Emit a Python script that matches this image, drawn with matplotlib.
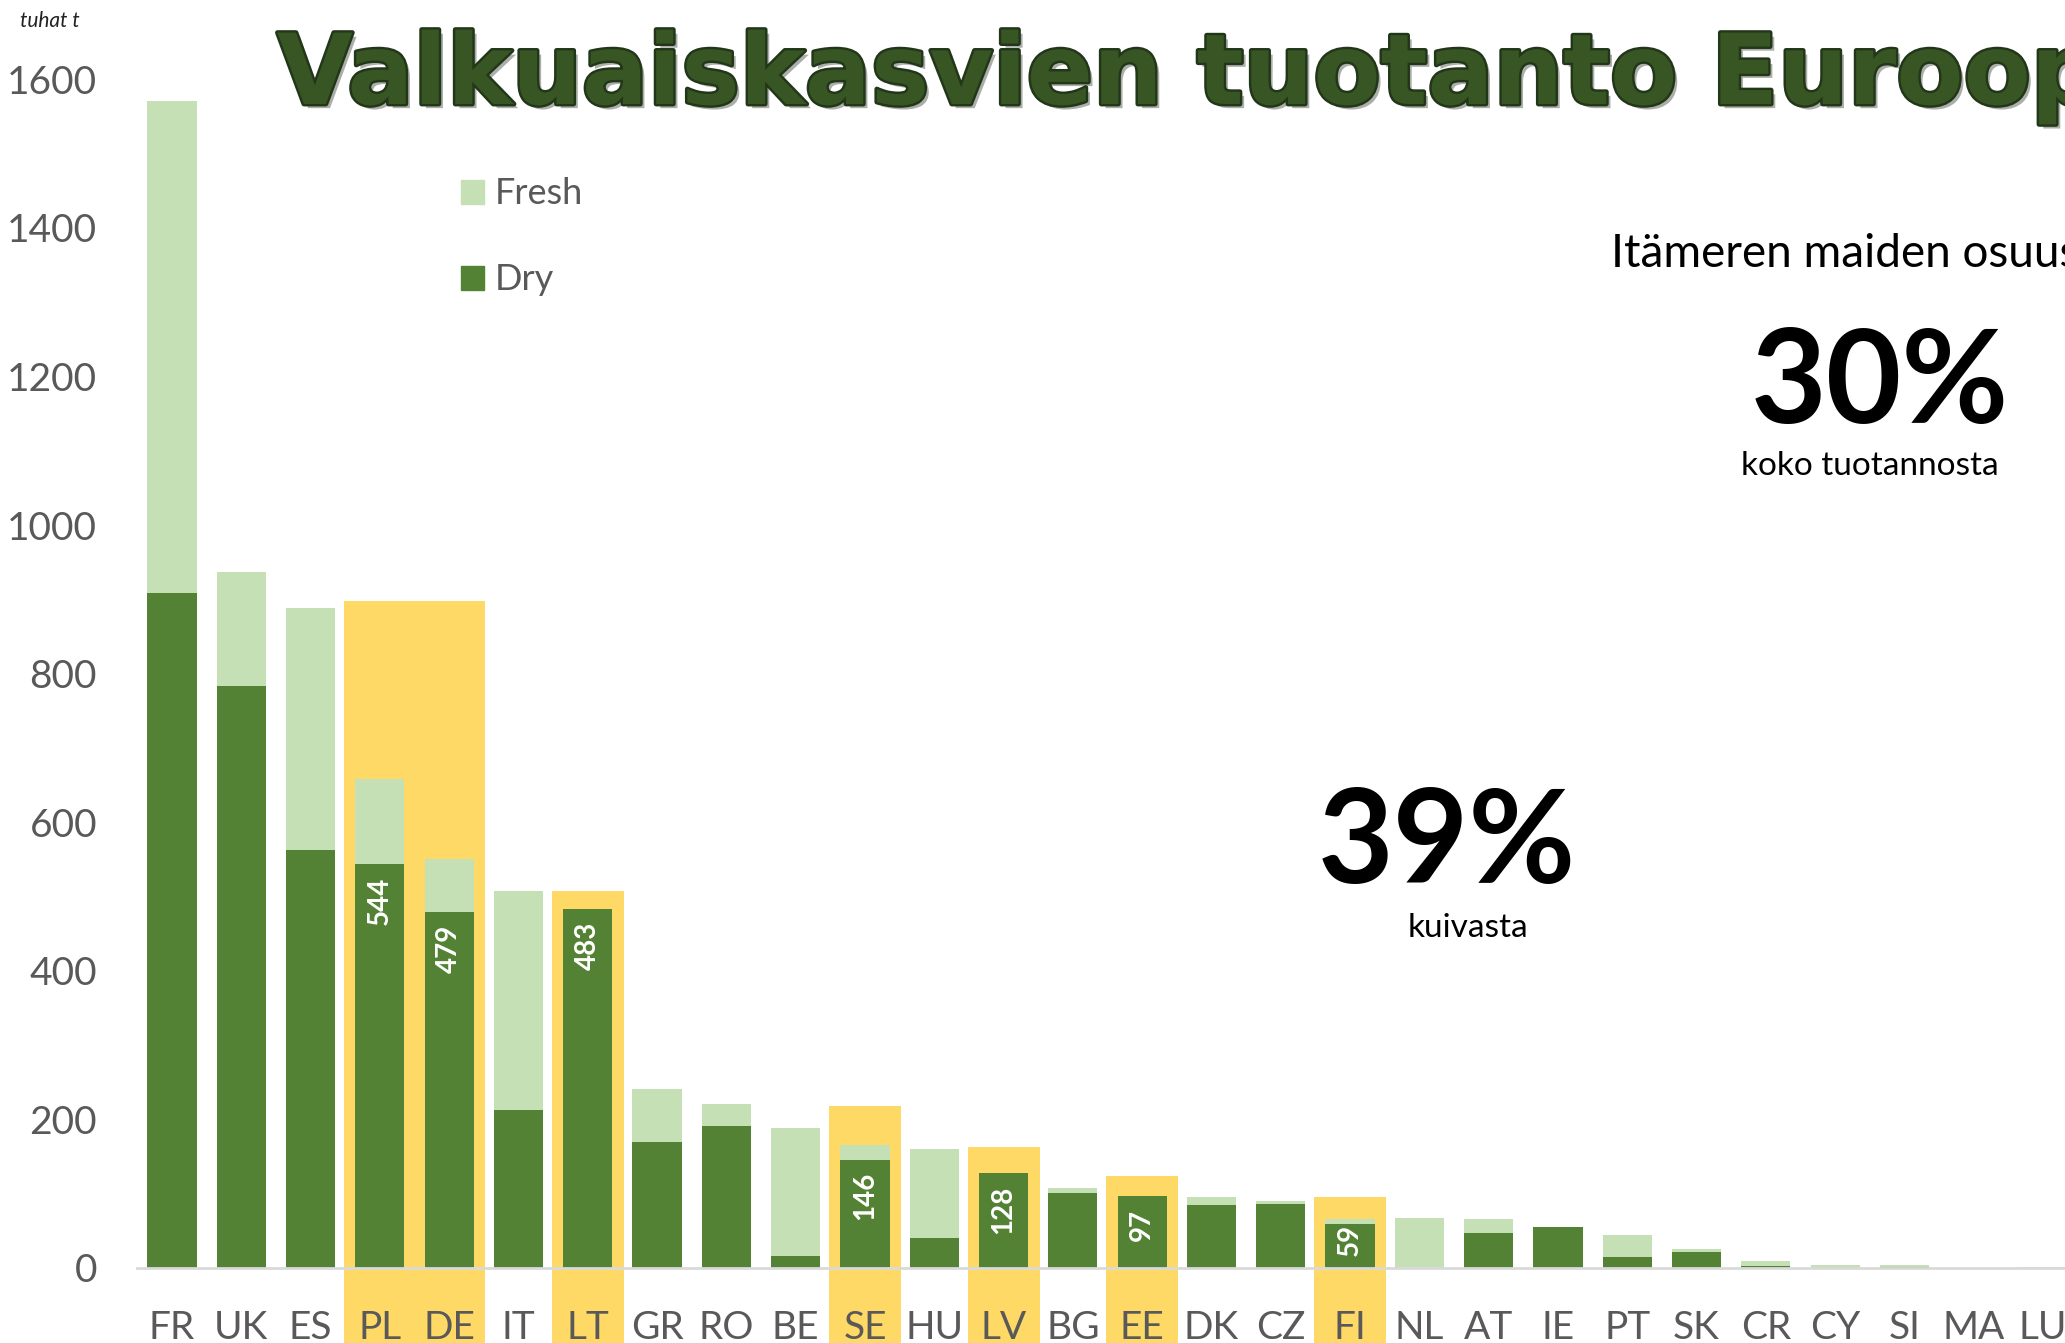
import matplotlib
matplotlib.use("Agg")
import matplotlib.pyplot as plt
import matplotlib.patheffects as pe
import numpy as np

countries = ["FR", "UK", "ES", "PL", "DE", "IT", "LT", "GR", "RO", "BE", "SE", "HU", "LV", "BG",
             "EE", "DK", "CZ", "FI", "NL", "AT", "IE", "PT", "SK", "CR", "CY", "SI", "MA", "LU"]
dry = [908, 783, 562, 544, 479, 213, 483, 169, 191, 16, 146, 40, 128, 101,
       97, 85, 86, 59, 0, 47, 55, 15, 22, 3, 0, 1, 0, 0]
fresh = [663, 154, 326, 114, 72, 294, 0, 72, 30, 172, 20, 120, 0, 7,
         0, 11, 4, 7, 67, 19, 0, 29, 4, 7, 4, 3, 0.5, 1.5]
# Baltic Sea countries highlight (height of the yellow band)
highlight = [0, 0, 0, 898, 898, 0, 508, 0, 0, 0, 218, 0, 163, 0,
             124, 0, 0, 96, 0, 0, 0, 0, 0, 0, 0, 0, 0, 0]
labelled = ["PL", "DE", "LT", "SE", "LV", "EE", "FI"]
yticks = [0, 200, 400, 600, 800, 1000, 1200, 1400, 1600]

DARK = "#548235"
LIGHT = "#C5E0B4"
GOLD = "#FFD966"
GREY = "#595959"
FONT = "Lato"

W, H = 2065, 1343
fig = plt.figure(figsize=(W / 100, H / 100), dpi=100)
ax = fig.add_axes([137.3 / W, 75 / H, 1940.4 / W, (0.743 * 1700) / H])

x = np.arange(len(countries))
hb = -110
hvals = np.array(highlight, dtype=float)
mask = hvals > 0
ax.bar(x[mask], hvals[mask] - hb, bottom=hb, width=1.04, color=GOLD, zorder=1, clip_on=False)
ax.bar(x, dry, width=0.71, color=DARK, zorder=3, label="Dry")
ax.bar(x, fresh, bottom=dry, width=0.71, color=LIGHT, zorder=3, label="Fresh")

for i, c in enumerate(countries):
    if c in labelled:
        off = -9 if dry[i] > 80 else 0
        ax.annotate(str(dry[i]), (x[i], dry[i]), xytext=(0, off), textcoords="offset points",
                    rotation=90, ha="center", va="top", color="white", fontsize=20,
                    fontweight="bold", family=FONT, zorder=5)

ax.set_xlim(-0.5, len(countries) - 0.5)
ax.set_ylim(0, 1700)
ax.set_yticks(yticks)
ax.set_xticks(x)
ax.set_xticklabels(countries)
ax.tick_params(axis="both", length=0, labelsize=28, labelcolor=GREY)
ax.tick_params(axis="y", pad=29)
ax.tick_params(axis="x", pad=30)
for lab in ax.get_xticklabels() + ax.get_yticklabels():
    lab.set_family(FONT)
for s in ["top", "right", "left"]:
    ax.spines[s].set_visible(False)
ax.spines["bottom"].set_color("#D9D9D9")
ax.spines["bottom"].set_linewidth(2)
ax.spines["bottom"].set_zorder(4)
ax.patch.set_alpha(0)

# legend (manual)
fig.patches.append(plt.Rectangle((461 / W, 1 - 204 / H), 23 / W, 24 / H, transform=fig.transFigure,
                                 color=LIGHT))
fig.patches.append(plt.Rectangle((461 / W, 1 - 290 / H), 23 / W, 24 / H, transform=fig.transFigure,
                                 color=DARK))
fig.text(495 / W, 1 - 193 / H, "Fresh", fontsize=26, color=GREY, family=FONT, va="center")
fig.text(495 / W, 1 - 279 / H, "Dry", fontsize=26, color=GREY, family=FONT, va="center")

fig.text(20 / W, 1 - 21 / H, "tuhat t", fontsize=15, style="italic", color="#222222",
         family=FONT, va="center")

fig.text(277 / W, 1 - 104 / H, "Valkuaiskasvien tuotanto Euroopassa", fontsize=70.5,
         fontweight="bold", family="DejaVu Sans", color="#375623", va="baseline",
         path_effects=[pe.SimplePatchShadow(offset=(3, -3), alpha=0.35),
                       pe.Stroke(linewidth=3.5, foreground="#22361a"), pe.Normal()])

fig.text(1611 / W, 1 - 254 / H, "Itämeren maiden osuus", fontsize=33, family=FONT,
         color="black", va="center")
fig.text(1880 / W, 1 - 385 / H, "30%", fontsize=94, fontweight="bold", family=FONT,
         color="black", ha="center", va="center")
fig.text(1870 / W, 1 - 466 / H, "koko tuotannosta", fontsize=24, family=FONT,
         color="black", ha="center", va="center")
fig.text(1447 / W, 1 - 846 / H, "39%", fontsize=94, fontweight="bold", family=FONT,
         color="black", ha="center", va="center")
fig.text(1468 / W, 1 - 928 / H, "kuivasta", fontsize=24, family=FONT,
         color="black", ha="center", va="center")

fig.savefig("out.png", dpi=100)
